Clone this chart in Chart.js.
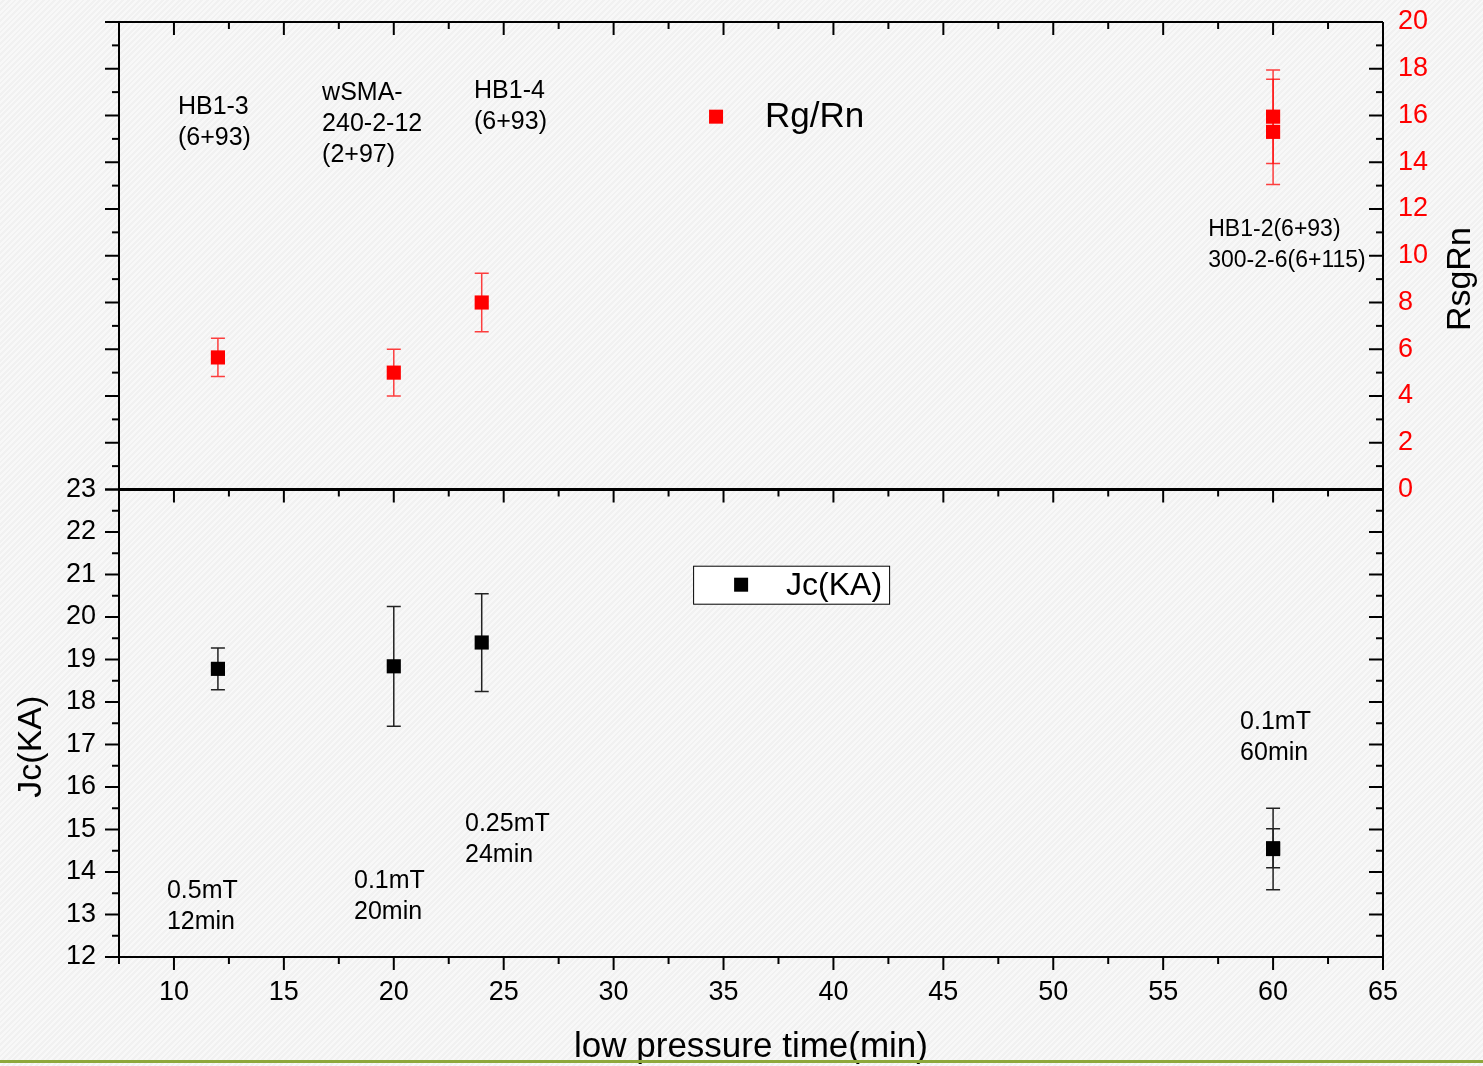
<!DOCTYPE html>
<html>
<head>
<meta charset="utf-8">
<script src="https://cdn.jsdelivr.net/npm/chart.js@4.4.1/dist/chart.umd.min.js"></script>
<style>
  html, body { margin: 0; padding: 0; }
  body {
    width: 1483px; height: 1066px; overflow: hidden;
    background: repeating-linear-gradient(135deg, #f8f8f8 0px, #f8f8f8 2px, #f1f1f1 2px, #f1f1f1 4px);
  }
  canvas { display: block; }
</style>
</head>
<body>
<canvas id="chartJc" width="1483" height="1066"></canvas>
<script>
// data
const pressureTime = [12, 20, 24, 60];          // low pressure time (min)
const rgRn = [5.65, 5.0, 8.0, 15.95];            // Rg/Rn
const rgRnErr = [0.82, 1.0, 1.25, 2.0];
const rgRnExtraTime = [60];                       // second sample at 60 min
const rgRnExtra = [15.3];
const rgRnExtraErr = [2.25];
const jcKA = [18.78, 18.84, 19.4, 14.54];        // Jc (KA)
const jcErr = [0.49, 1.41, 1.15, 0.96];
const jcExtraTime = [60];
const jcExtra = [14.56];
const jcExtraErr = [0.46];

const xTicks = [10, 15, 20, 25, 30, 35, 40, 45, 50, 55, 60, 65];
const jcTicks = [12, 13, 14, 15, 16, 17, 18, 19, 20, 21, 22, 23];
const rgTicks = [0, 2, 4, 6, 8, 10, 12, 14, 16, 18, 20];

const FONT = 'Arial, "Liberation Sans", sans-serif';
const RED = "#ff0000";

// annotation text, anchored in data units (first line), left aligned
const notes = [
  { axis: "yRg", x: 10.18, y: 16.37, size: 25, lines: ["HB1-3", "(6+93)"] },
  { axis: "yRg", x: 16.74, y: 16.97, size: 25, lines: ["wSMA-", "240-2-12", "(2+97)"] },
  { axis: "yRg", x: 23.65, y: 17.05, size: 25, lines: ["HB1-4", "(6+93)"] },
  { axis: "yRg", x: 57.05, y: 11.12, size: 23, lines: ["HB1-2(6+93)", "300-2-6(6+115)"] },
  { axis: "yJc", x: 9.68, y: 13.56, size: 25, lines: ["0.5mT", "12min"] },
  { axis: "yJc", x: 18.19, y: 13.79, size: 25, lines: ["0.1mT", "20min"] },
  { axis: "yJc", x: 23.24, y: 15.13, size: 25, lines: ["0.25mT", "24min"] },
  { axis: "yJc", x: 58.5, y: 17.53, size: 25, lines: ["0.1mT", "60min"] },
];

function pts(xs, ys) {
  return xs.map((t, i) => ({ x: t, y: ys[i] }));
}

// error bars under the markers
const errorBars = {
  id: "errorBars",
  beforeDatasetsDraw(chart) {
    const ctx = chart.ctx;
    chart.data.datasets.forEach((ds) => {
      const sx = chart.scales.x;
      const sy = chart.scales[ds.yAxisID];
      ctx.save();
      ctx.strokeStyle = ds.errColor;
      ctx.lineWidth = 1.5;
      ds.data.forEach((p, i) => {
        const e = ds.errors[i];
        const px = sx.getPixelForValue(p.x);
        const top = sy.getPixelForValue(p.y + e);
        const bot = sy.getPixelForValue(p.y - e);
        ctx.beginPath();
        ctx.moveTo(px, top); ctx.lineTo(px, bot);
        ctx.moveTo(px - 7, top); ctx.lineTo(px + 7, top);
        ctx.moveTo(px - 7, bot); ctx.lineTo(px + 7, bot);
        ctx.stroke();
      });
      ctx.restore();
    });
  },
};

// frame, ticks, titles, legends, notes
const decor = {
  id: "decor",
  afterDraw(chart) {
    const { ctx, chartArea: a, scales } = chart;
    const sx = scales.x, sJ = scales.yJc, sR = scales.yRg;
    const mid = sJ.getPixelForValue(23);
    ctx.save();
    ctx.strokeStyle = "#000";
    function seg(x1, y1, x2, y2, w) {
      ctx.lineWidth = w || 2;
      ctx.beginPath(); ctx.moveTo(x1, y1); ctx.lineTo(x2, y2); ctx.stroke();
    }
    // frame
    seg(a.left, a.top, a.right, a.top, 2);
    seg(a.left, a.bottom, a.right, a.bottom, 2);
    seg(a.left, a.top, a.left, a.bottom, 2);
    seg(a.right, a.top, a.right, a.bottom, 2);
    seg(a.left, mid, a.right, mid, 3);

    // x ticks
    for (let v = 7.5; v <= 65.001; v += 2.5) {
      const px = sx.getPixelForValue(v);
      const len = v % 5 === 0 ? 13 : 7;
      seg(px, a.bottom, px, a.bottom + len);
      seg(px, mid, px, mid + len);
      seg(px, a.top, px, a.top + len);
    }
    // Jc ticks (bottom panel)
    for (let v = 12; v <= 23.001; v += 0.5) {
      const py = sJ.getPixelForValue(v);
      const len = Number.isInteger(v) ? 14 : 7;
      seg(a.left - len, py, a.left, py);
      seg(a.right - len, py, a.right, py);
    }
    // Rg ticks (top panel)
    for (let v = 0; v <= 20; v += 1) {
      const py = sR.getPixelForValue(v);
      const len = v % 2 === 0 ? 14 : 7;
      seg(a.left - len, py, a.left, py);
      seg(a.right - len, py, a.right, py);
    }

    // axis titles
    ctx.fillStyle = "#000";
    ctx.font = "35px " + FONT;
    ctx.textAlign = "center";
    ctx.textBaseline = "middle";
    ctx.fillText("low pressure time(min)", 751, 1047);
    ctx.font = "34px " + FONT;
    ctx.save();
    ctx.translate(32, sJ.getPixelForValue(16.95));
    ctx.rotate(-Math.PI / 2);
    ctx.fillText("Jc(KA)", 0, 0);
    ctx.restore();
    ctx.save();
    ctx.translate(1461, sR.getPixelForValue(9));
    ctx.rotate(-Math.PI / 2);
    ctx.fillText("RsgRn", 0, 0);
    ctx.restore();

    // notes
    ctx.textAlign = "left";
    notes.forEach((n) => {
      ctx.font = n.size + "px " + FONT;
      const px = sx.getPixelForValue(n.x);
      const py = scales[n.axis].getPixelForValue(n.y);
      n.lines.forEach((t, i) => ctx.fillText(t, px, py + i * 31));
    });

    // legend Rg/Rn
    const lx1 = sx.getPixelForValue(34.66), ly1 = sR.getPixelForValue(15.95);
    ctx.fillStyle = RED;
    ctx.fillRect(lx1 - 7, ly1 - 7, 14, 14);
    ctx.fillStyle = "#000";
    ctx.font = "35px " + FONT;
    ctx.fillText("Rg/Rn", lx1 + 49, ly1 + 1);

    // legend Jc(KA) with box
    const lx2 = sx.getPixelForValue(35.8), ly2 = sJ.getPixelForValue(20.76);
    ctx.lineWidth = 1;
    ctx.fillStyle = "#ffffff";
    ctx.fillRect(lx2 - 48, ly2 - 19, 196, 38);
    ctx.strokeRect(lx2 - 48 + 0.5, ly2 - 19 + 0.5, 196, 38);
    ctx.fillStyle = "#000";
    ctx.fillRect(lx2 - 7, ly2 - 7, 14, 14);
    ctx.font = "32px " + FONT;
    ctx.fillText("Jc(KA)", lx2 + 45, ly2 + 1);

    // green rule at the foot
    ctx.fillStyle = "#8ea83c";
    ctx.fillRect(0, 1060, chart.width, 3);
    ctx.restore();
  },
};

function noPadY(s, w) {
  s.width = w;
  s.paddingTop = 0;
  s.paddingBottom = 0;
}

const ctx = document.getElementById("chartJc").getContext("2d");
const myChart = new Chart(ctx, {
  type: "scatter",
  data: {
    datasets: [
      {
        label: "Rg/Rn",
        data: pts(pressureTime, rgRn),
        errors: rgRnErr,
        errColor: "rgba(255,0,0,0.75)",
        yAxisID: "yRg",
        backgroundColor: RED,
      },
      {
        label: "Rg/Rn 2",
        data: pts(rgRnExtraTime, rgRnExtra),
        errors: rgRnExtraErr,
        errColor: "rgba(255,0,0,0.75)",
        yAxisID: "yRg",
        backgroundColor: RED,
      },
      {
        label: "Jc(KA)",
        data: pts(pressureTime, jcKA),
        errors: jcErr,
        errColor: "#222",
        yAxisID: "yJc",
        backgroundColor: "#000",
      },
      {
        label: "Jc(KA) 2",
        data: pts(jcExtraTime, jcExtra),
        errors: jcExtraErr,
        errColor: "#222",
        yAxisID: "yJc",
        backgroundColor: "#000",
      },
    ],
  },
  options: {
    responsive: false,
    animation: false,
    devicePixelRatio: 1,
    layout: { padding: { top: 22, left: 0, right: 0, bottom: 0 } },
    elements: {
      point: { pointStyle: "rect", radius: 10, borderWidth: 0, hoverRadius: 10 },
    },
    plugins: { legend: { display: false }, tooltip: { enabled: false } },
    scales: {
      x: {
        type: "linear",
        position: "bottom",
        min: 7.5,
        max: 65,
        afterFit: (s) => { s.height = 109; s.paddingLeft = 0; s.paddingRight = 0; },
        afterBuildTicks: (s) => { s.ticks = xTicks.map((v) => ({ value: v })); },
        grid: { display: false, drawTicks: false },
        border: { display: false },
        ticks: { font: { size: 27, family: FONT }, color: "#000", padding: 19, maxRotation: 0 },
      },
      yJc: {
        type: "linear",
        position: "left",
        min: 12,
        max: 34,
        afterFit: (s) => noPadY(s, 119),
        afterBuildTicks: (s) => { s.ticks = jcTicks.map((v) => ({ value: v })); },
        grid: { display: false, drawTicks: false },
        border: { display: false },
        ticks: { font: { size: 27, family: FONT }, color: "#000", padding: 23 },
      },
      yRg: {
        type: "linear",
        position: "right",
        min: -20,
        max: 20,
        afterFit: (s) => noPadY(s, 100),
        afterBuildTicks: (s) => { s.ticks = rgTicks.map((v) => ({ value: v })); },
        grid: { display: false, drawTicks: false },
        border: { display: false },
        ticks: { font: { size: 27, family: FONT }, color: RED, padding: 15 },
      },
    },
  },
  plugins: [errorBars, decor],
});
</script>
</body>
</html>
